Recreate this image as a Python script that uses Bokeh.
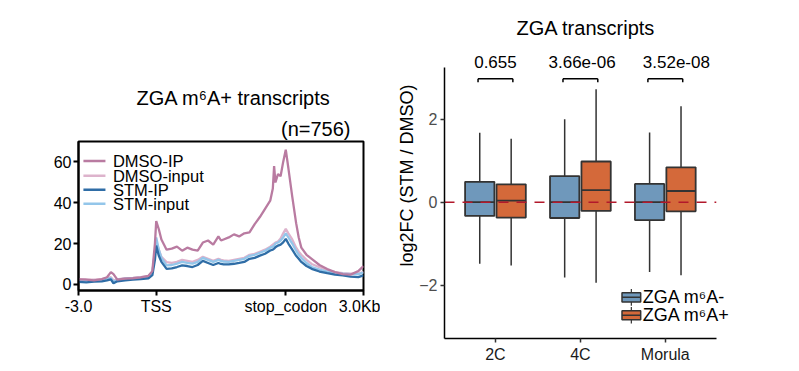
from bokeh.plotting import figure
from bokeh.layouts import row, column
from bokeh.models import Range1d, FixedTicker, Label, Title
from bokeh.core.properties import value
from bokeh.embed import file_html
from bokeh.resources import INLINE

FONT = "Liberation Sans"

# ---------------- left: metagene profile ----------------
# bins: upstream 0-30 (-3.0 .. TSS), body 30-80 (TSS .. stop_codon), downstream 80-110 (.. 3.0Kb)
pos = [0, 3, 6, 9, 11, 12.5, 13.5, 15, 18, 21, 24, 27, 28.5, 29.5, 30, 31, 32, 34, 36, 38,
       40, 42, 44, 46, 48, 50, 52, 54, 55, 56, 58, 60, 62, 64, 66, 68, 70, 72, 74, 75,
       75.5, 76, 77, 78, 79, 80, 81, 82.5, 84, 85, 86, 88, 90, 93, 96, 99, 102, 105, 108, 110]
dmso_ip = [2.5, 2.3, 2.0, 2.6, 3.5, 6.0, 5.0, 2.3, 2.8, 3.0, 3.4, 4.2, 6.5, 20, 31, 27, 22, 17, 17.5, 18.5,
           16.5, 18, 17, 16.5, 20.5, 21.5, 19.5, 23.5, 21.5, 22, 23, 24.5, 23.5, 25, 25.5, 29.5, 33, 37, 41, 47,
           58, 50, 54, 53, 60, 66, 57, 43, 30, 23, 18, 14.5, 12.5, 9.5, 7.5, 6, 5, 4.8, 6.5, 9]
dmso_input = [2.6, 2.4, 2.3, 2.6, 3.0, 3.5, 2.0, 2.5, 3.0, 3.2, 3.5, 4.0, 6, 15, 21, 17, 13.5, 10.9, 10.5, 11,
              12, 11.5, 11, 12, 13.5, 12.5, 11.5, 12.5, 12, 11.8, 11.5, 12, 12.5, 13, 14.5, 15, 16, 17, 18.5, 19.5,
              20, 20.5, 21, 22.5, 25, 27.2, 25, 22, 18, 16, 14.5, 12, 10, 8.4, 7, 6, 5.5, 5.2, 5.2, 6.2]
stm_ip = [1.2, 1.0, 1.3, 1.5, 2.0, 2.5, 0.5, 1.5, 2.0, 2.3, 2.6, 3.0, 4.5, 12, 19, 14, 11, 7.6, 7.8, 8.5,
          9.3, 9.0, 8.5, 9.5, 11.5, 10.5, 9.5, 10.5, 10, 9.8, 9.8, 10.1, 10.5, 11, 12.5, 13, 14.1, 15, 16.6, 17,
          17.5, 18.2, 19, 19.5, 20.6, 22.3, 20, 17, 14, 12.5, 11, 9, 7.6, 6.3, 5.5, 4.8, 4.4, 3.8, 3.6, 4.4]
stm_input = [2.0, 1.8, 2.0, 2.2, 2.8, 3.0, 1.2, 2.3, 2.8, 3.0, 3.3, 3.8, 6, 16, 23, 17, 13, 9.3, 9.5, 10.2,
             11, 10.5, 10.2, 11, 13, 12, 11, 12, 11.5, 11.2, 11, 11.5, 12, 12.5, 14, 14.5, 15.5, 16.5, 18, 18.5,
             19, 20, 20.5, 21.5, 23, 25, 23, 20, 16.5, 14.5, 13, 10.5, 8.5, 7.2, 6.3, 5.5, 5.2, 5.0, 5.0, 5.8]
series_names = ["DMSO-IP", "DMSO-input", "STM-IP", "STM-input"]
series_vals = [dmso_ip, dmso_input, stm_ip, stm_input]
series_cols = ["#b97ba1", "#ddb3cc", "#2f6da6", "#93c6ea"]
prof_ticks = [0, 30, 80, 110]
prof_tick_labels = ["-3.0", "TSS", "stop_codon", "3.0Kb"]
prof_yticks = [0, 20, 40, 60]

p1 = figure(width=380, height=340, x_range=Range1d(0, 110), y_range=Range1d(-3, 70),
            output_backend="svg", toolbar_location=None,
            min_border_left=78, min_border_right=17, min_border_top=141, min_border_bottom=50)
p1.xgrid.visible = False
p1.ygrid.visible = False
p1.outline_line_color = "black"
p1.outline_line_width = 2
for ax in (p1.xaxis[0], p1.yaxis[0]):
    ax.axis_line_color = "black"
    ax.axis_line_width = 2
    ax.major_tick_line_width = 2
    ax.major_tick_line_color = "black"
    ax.major_tick_out = 5
    ax.major_tick_in = 0
    ax.minor_tick_line_color = None
    ax.major_label_text_font = FONT
    ax.major_label_text_font_size = "16px"
    ax.major_label_text_color = "black"
    ax.major_label_standoff = 2
p1.xaxis.ticker = FixedTicker(ticks=prof_ticks)
p1.xaxis.major_label_overrides = {t: l for t, l in zip(prof_ticks, prof_tick_labels)}
p1.yaxis.ticker = FixedTicker(ticks=prof_yticks)

draw_order = [1, 3, 2, 0]
for i in draw_order:
    p1.line(pos, series_vals[i], line_color=series_cols[i], line_width=2.3)

leg_y = [60.5, 53.2, 46.3, 39.5]
for i in range(4):
    p1.segment(x0=[1.9], x1=[10.4], y0=[leg_y[i]], y1=[leg_y[i]], line_color=series_cols[i], line_width=2.5)
    p1.add_layout(Label(x=13.3, y=leg_y[i], text=series_names[i], text_font=FONT,
                        text_font_size="16.5px", text_baseline="middle", text_align="left",
                        text_color="black"))

p1.add_layout(Title(text="(n=756)", align="right", offset=13, standoff=3, text_font=FONT,
                    text_font_size="20px", text_font_style="normal", text_color="black"), "above")
p1.add_layout(Title(text="ZGA m\u2076A+ transcripts", align="left", offset=58, standoff=11, text_font=FONT,
                    text_font_size="20px", text_font_style="normal", text_color="black"), "above")

# ---------------- right: boxplots ----------------
stages = ["2C", "4C", "Morula"]
stage_pos = [1, 2, 3]
neg_low = [-1.48, -1.81, -1.68]
neg_q1 = [-0.33, -0.38, -0.43]
neg_med = [0.0, 0.0, 0.0]
neg_q3 = [0.49, 0.63, 0.44]
neg_up = [1.67, 2.0, 1.68]
pos_low = [-1.52, -1.94, -1.76]
pos_q1 = [-0.37, -0.21, -0.22]
pos_med = [0.04, 0.29, 0.27]
pos_q3 = [0.43, 0.98, 0.84]
pos_up = [1.53, 2.72, 2.31]
pvals = ["0.655", "3.66e-06", "3.52e-08"]
pval_x = [1.0, 2.02, 3.13]
groups = ["ZGA m\u2076A-", "ZGA m\u2076A+"]
box_cols = ["#6f98bb", "#d4693a"]

p2 = figure(width=419, height=370, x_range=Range1d(0.4, 3.85), y_range=Range1d(-3.28, 3.7),
            output_backend="svg", toolbar_location=None,
            min_border_left=64, min_border_right=62, min_border_top=48, min_border_bottom=32)
p2.xgrid.visible = False
p2.ygrid.visible = False
p2.outline_line_color = None
for ax in (p2.xaxis[0], p2.yaxis[0]):
    ax.axis_line_color = "black"
    ax.axis_line_width = 1.5
    ax.major_tick_line_width = 1.5
    ax.major_tick_line_color = "#333333"
    ax.major_tick_out = 4
    ax.major_tick_in = 0
    ax.minor_tick_line_color = None
    ax.major_label_text_font = FONT
    ax.major_label_text_font_size = "16px"
    ax.major_label_text_color = "#4d4d4d"
    ax.major_label_standoff = 3
p2.xaxis.ticker = FixedTicker(ticks=stage_pos)
p2.xaxis.major_label_overrides = {t: s for t, s in zip(stage_pos, stages)}
p2.xaxis.major_label_text_color = "#1a1a1a"
p2.xaxis.bounds = (0.4, 3.6)
p2.yaxis.ticker = FixedTicker(ticks=[-2, 0, 2])
p2.yaxis.major_label_overrides = {-2: "\u22122", 0: "0", 2: "2"}
p2.yaxis.bounds = (-3.28, 3.25)

p2.add_layout(Title(text="log2FC (STM / DMSO)", align="left", offset=72, standoff=0, text_font=FONT,
                    text_font_size="18px", text_font_style="normal", text_color="black"), "left")

p2.title.text = "ZGA transcripts"
p2.title.align = "left"
p2.title.offset = 72
p2.title.standoff = 20
p2.title.text_font = FONT
p2.title.text_font_size = "20px"
p2.title.text_font_style = "normal"
p2.title.text_color = "black"

off = 0.185
bw = 0.345
line_c = "#333333"
for g, (lo, q1, md, q3, up, sgn) in enumerate([(neg_low, neg_q1, neg_med, neg_q3, neg_up, -1),
                                                (pos_low, pos_q1, pos_med, pos_q3, pos_up, 1)]):
    xs = [s + sgn * off for s in stage_pos]
    p2.segment(x0=xs, x1=xs, y0=q3, y1=up, line_color=line_c, line_width=1.5)
    p2.segment(x0=xs, x1=xs, y0=lo, y1=q1, line_color=line_c, line_width=1.5)
    p2.vbar(x=xs, width=bw, bottom=q1, top=q3, fill_color=box_cols[g], line_color=line_c, line_width=1.8)
    p2.segment(x0=[x - bw / 2 for x in xs], x1=[x + bw / 2 for x in xs], y0=md, y1=md,
               line_color=line_c, line_width=1.8)

p2.segment(x0=[0.4], x1=[3.6], y0=[0], y1=[0], line_color="#b2182b", line_width=1.5, line_dash="10 8")

bl = [s - 0.205 for s in stage_pos]
br = [s + 0.205 for s in stage_pos]
yb = [2.97] * 3
yt = [2.89] * 3
p2.segment(x0=bl, x1=br, y0=yb, y1=yb, line_color="black", line_width=1.5)
p2.segment(x0=bl, x1=bl, y0=yb, y1=yt, line_color="black", line_width=1.5)
p2.segment(x0=br, x1=br, y0=yb, y1=yt, line_color="black", line_width=1.5)
p2.text(x=pval_x, y=[3.38] * 3, text=pvals, text_font=value(FONT), text_font_size="17px",
        text_align="center", text_baseline="middle", text_color="black")

leg2_y = [-2.29, -2.72]
kx = 2.6
kw = 0.22
for g in range(2):
    y = leg2_y[g]
    p2.segment(x0=[kx], x1=[kx], y0=[y - 0.2], y1=[y + 0.2], line_color=line_c, line_width=1.2)
    p2.rect(x=[kx], y=[y], width=kw, height=0.22, fill_color=box_cols[g], line_color=line_c, line_width=1.5)
    p2.segment(x0=[kx - kw / 2], x1=[kx + kw / 2], y0=[y], y1=[y], line_color=line_c, line_width=1.5)
    p2.add_layout(Label(x=2.735, y=y, text=groups[g], text_font=FONT, text_font_size="18px",
                        text_align="left", text_baseline="middle", text_color="black"))

layout = row(column(p1), column(p2))
open("out.html", "w").write(file_html(layout, INLINE))
